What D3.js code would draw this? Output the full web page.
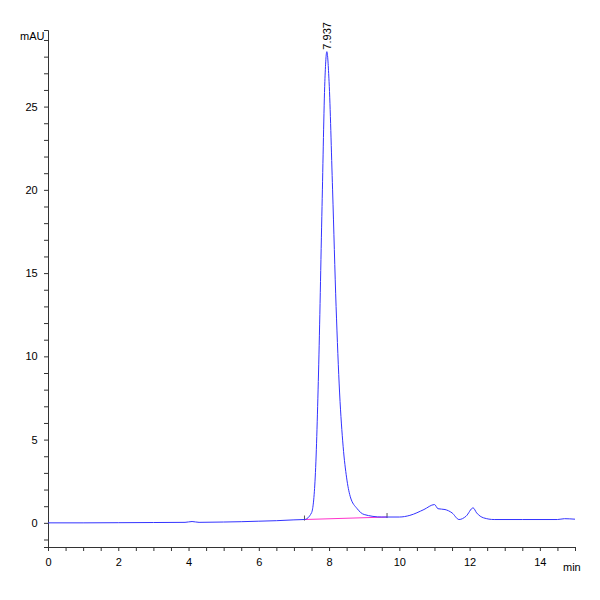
<!DOCTYPE html>
<html><head><meta charset="utf-8">
<script src="https://cdn.jsdelivr.net/npm/d3@7"></script>
<style>body{margin:0;background:#fff}text{font-family:"Liberation Sans Narrow","Liberation Sans",Arial,sans-serif}</style>
</head><body><div id="chart"></div>
<script>
// retention time (min) and signal (mAU)
var times  = [0, 1, 2, 3, 3.9, 4.1, 4.3, 5, 5.5, 6, 6.5, 7, 7.3, 7.5, 7.6, 7.7, 7.8, 7.88, 7.937, 8.0, 8.1, 8.2, 8.3, 8.4, 8.5, 8.6, 8.8, 9.0, 9.5, 10, 10.3, 10.7, 11.0, 11.1, 11.3, 11.5, 11.7, 11.9, 12.1, 12.2, 12.4, 12.7, 13.5, 14.5, 14.7, 15];
var signal = [0, 0, 0.01, 0.02, 0.03, 0.08, 0.03, 0.05, 0.07, 0.1, 0.13, 0.18, 0.2, 0.6, 2.5, 9, 19, 26.5, 28.3, 26.5, 20, 13, 7.8, 4.6, 2.7, 1.6, 0.85, 0.5, 0.35, 0.35, 0.45, 0.8, 1.1, 0.85, 0.8, 0.6, 0.2, 0.4, 0.9, 0.6, 0.3, 0.2, 0.2, 0.2, 0.25, 0.22];
var baseX = [7.3, 9.65];
var baseY = [0.2, 0.35];
var peakLabel = "7.937";
var xTicks = [0, 2, 4, 6, 8, 10, 12, 14];
var yTicks = [0, 5, 10, 15, 20, 25];

var width = 600, height = 600;
var x = d3.scaleLinear().domain([0, 15]).range([48, 575]);
var y = d3.scaleLinear().domain([-1.45, 29.6]).range([547, 30]);

var svg = d3.select('#chart').append('svg').attr('width', width).attr('height', height);

// axes
var xAxis = d3.axisBottom(x).tickValues(d3.range(0, 15.01, 0.5)).tickSize(4)
  .tickFormat(function(d) { return xTicks.indexOf(d) >= 0 ? d : ''; });
var gx = svg.append('g').attr('transform', 'translate(0,' + y(-1.45) + ')').call(xAxis);
gx.selectAll('text').attr('font-size', 11).attr('dy', '1.1em');
gx.selectAll('.tick line').attr('stroke', '#333');

var yAxis = d3.axisLeft(y).tickValues(d3.range(-1, 29.01, 1)).tickSize(4)
  .tickFormat(function(d) { return yTicks.indexOf(d) >= 0 ? d : ''; });
var gy = svg.append('g').attr('transform', 'translate(' + x(0) + ',0)').call(yAxis);
gy.selectAll('text').attr('font-size', 11).attr('dx', '-0.3em');
gy.selectAll('.tick line').attr('stroke', '#333');
svg.selectAll('.domain').attr('stroke', '#333');

svg.append('text').attr('x', 20).attr('y', 40).attr('font-size', 11).text('mAU');
svg.append('text').attr('x', 563).attr('y', 571).attr('font-size', 11).text('min');

// integration baseline
svg.append('line')
  .attr('x1', x(baseX[0])).attr('y1', y(baseY[0]))
  .attr('x2', x(baseX[1])).attr('y2', y(baseY[1]))
  .attr('stroke', '#ff33cc').attr('stroke-width', 1);
baseX.forEach(function(t, i) {
  svg.append('line').attr('x1', x(t)).attr('x2', x(t))
    .attr('y1', y(baseY[i]) - 4).attr('y2', y(baseY[i]) + 1).attr('stroke', '#555');
});

// signal trace
var line = d3.line().x(function(d, i) { return x(times[i]); }).y(function(d) { return y(d); })
  .curve(d3.curveMonotoneX);
svg.append('path').datum(signal).attr('d', line)
  .attr('fill', 'none').attr('stroke', '#3333ff').attr('stroke-width', 1);

// peak label
svg.append('text')
  .attr('transform', 'translate(' + (x(7.937) + 4) + ',' + (y(28.3) - 2) + ') rotate(-90)')
  .attr('font-size', 11).text(peakLabel);
</script></body></html>
